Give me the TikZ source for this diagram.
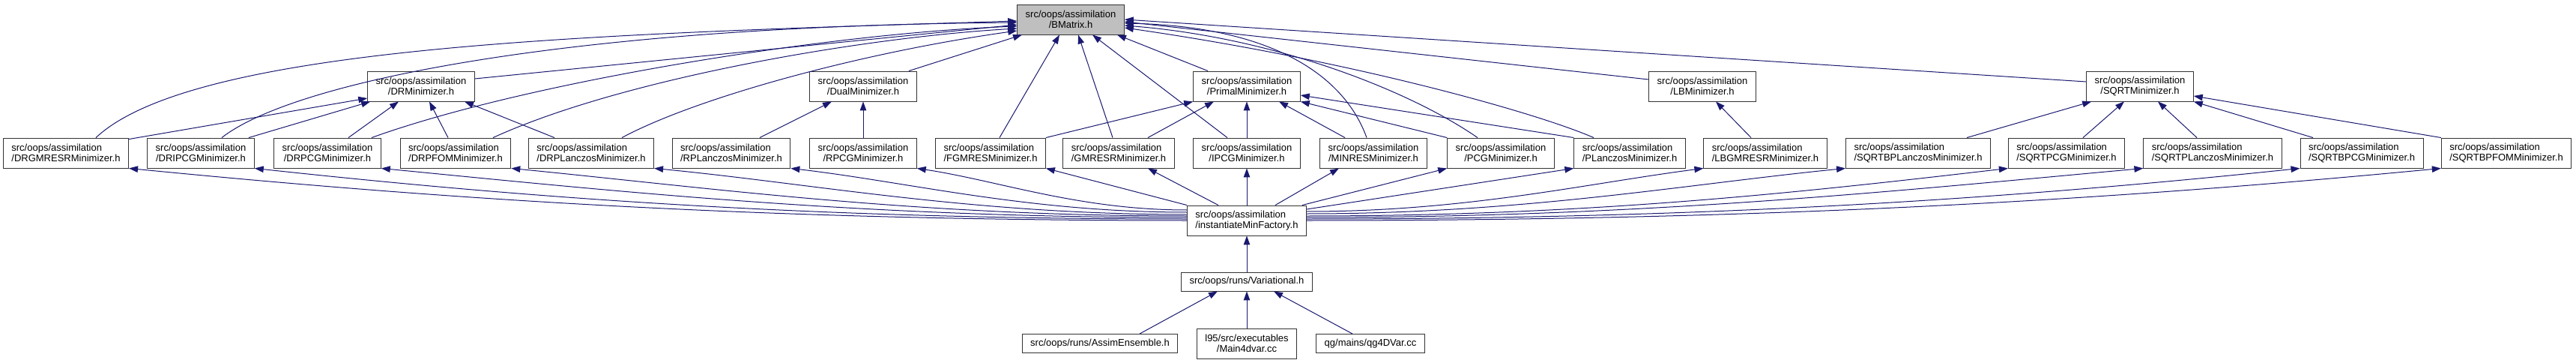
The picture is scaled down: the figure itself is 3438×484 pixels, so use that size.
\documentclass[tikz,border=0pt]{standalone}
\usepackage{fontspec}
\setmainfont{Liberation Sans}
\usepackage{tikz}
\usetikzlibrary{arrows.meta}
\definecolor{edgeblue}{RGB}{25,25,112}
\definecolor{rootgray}{RGB}{191,191,191}

\begin{document}
\begin{tikzpicture}[
        x=1pt, y=-1pt,
        hdr/.style={draw=black!80, line width=0.9pt, fill=white, inner xsep=11pt, inner ysep=0pt,
          minimum height=40pt, align=center, font=\fontsize{13}{14}\selectfont},
        hdrl/.style={hdr, align=left},
        one/.style={hdr, minimum height=25pt},
        root/.style={hdr, fill=rootgray},
        inc/.style={draw=edgeblue, line width=1pt, -{Triangle[length=12pt,width=8.5pt]}}
      ]
        \useasboundingbox (0,0) rectangle (3438,484);
        \node[root] (bm) at (1429,26) {src/oops/assimilation\\/BMatrix.h};
        \node[hdr] (drm) at (562,115) {src/oops/assimilation\\/DRMinimizer.h};
        \node[hdr] (dual) at (1152,115) {src/oops/assimilation\\/DualMinimizer.h};
        \node[hdr] (primal) at (1664,115) {src/oops/assimilation\\/PrimalMinimizer.h};
        \node[hdr] (lb) at (2272,115) {src/oops/assimilation\\/LBMinimizer.h};
        \node[hdr] (sqrtm) at (2856,115) {src/oops/assimilation\\/SQRTMinimizer.h};
        \node[hdrl] (drg) at (88,204) {src/oops/assimilation\\/DRGMRESRMinimizer.h};
        \node[hdr] (dripcg) at (268,204) {src/oops/assimilation\\/DRIPCGMinimizer.h};
        \node[hdr] (drpcg) at (437,204) {src/oops/assimilation\\/DRPCGMinimizer.h};
        \node[hdrl] (drpfom) at (608,204) {src/oops/assimilation\\/DRPFOMMinimizer.h};
        \node[hdrl] (drplan) at (789,204) {src/oops/assimilation\\/DRPLanczosMinimizer.h};
        \node[hdrl] (rplan) at (976,204) {src/oops/assimilation\\/RPLanczosMinimizer.h};
        \node[hdr] (rpcg) at (1152,204) {src/oops/assimilation\\/RPCGMinimizer.h};
        \node[hdrl] (fgmres) at (1322,204) {src/oops/assimilation\\/FGMRESMinimizer.h};
        \node[hdrl] (gmresr) at (1493,204) {src/oops/assimilation\\/GMRESRMinimizer.h};
        \node[hdr] (ipcg) at (1664,204) {src/oops/assimilation\\/IPCGMinimizer.h};
        \node[hdr] (minres) at (1833,204) {src/oops/assimilation\\/MINRESMinimizer.h};
        \node[hdr] (pcg) at (2003,204) {src/oops/assimilation\\/PCGMinimizer.h};
        \node[hdrl] (plan) at (2175,204) {src/oops/assimilation\\/PLanczosMinimizer.h};
        \node[hdrl] (lbg) at (2356,204) {src/oops/assimilation\\/LBGMRESRMinimizer.h};
        \node[hdrl] (sbplan) at (2560,204) {src/oops/assimilation\\/SQRTBPLanczosMinimizer.h};
        \node[hdrl] (spcg) at (2758,204) {src/oops/assimilation\\/SQRTPCGMinimizer.h};
        \node[hdrl] (splan) at (2953,204) {src/oops/assimilation\\/SQRTPLanczosMinimizer.h};
        \node[hdrl] (sbpcg) at (3152,204) {src/oops/assimilation\\/SQRTBPCGMinimizer.h};
        \node[hdrl] (sbpfom) at (3345,204) {src/oops/assimilation\\/SQRTBPFOMMinimizer.h};
        \node[hdrl] (fac) at (1664,294) {src/oops/assimilation\\/instantiateMinFactory.h};
        \node[one] (var) at (1664,375.5) {src/oops/runs/Variational.h};
        \node[one] (ens) at (1468,458) {src/oops/runs/AssimEnsemble.h};
        \node[hdr] (m4d) at (1664,458) {l95/src/executables\\/Main4dvar.cc};
        \node[one] (qg) at (1829,458) {qg/mains/qg4DVar.cc};

        \draw[inc] ([xshift=40pt]drg.north) .. controls (260,60) and (800,45) .. ([yshift=-2pt]bm.west);
        \draw[inc] ([xshift=28pt]dripcg.north) .. controls (390,110) and (750,35) .. ([yshift=-4pt]bm.west);
        \draw[inc] ([yshift=10pt]drm.east) -- ([yshift=-7pt]bm.west);
        \draw[inc] ([xshift=59pt]drpcg.north) .. controls (700,110) and (1100,45) .. ([yshift=-9pt]bm.west);
        \draw[inc] ([xshift=50pt]drpfom.north) .. controls (830,105) and (1150,50) .. ([yshift=-12pt]bm.west);
        \draw[inc] ([xshift=41pt]drplan.north) .. controls (930,130) and (1150,70) .. ([yshift=-15pt]bm.west);
        \draw[inc] ([xshift=61pt]dual.north) -- ([xshift=-65pt]bm.south);
        \draw[inc] ([xshift=12pt]fgmres.north) -- ([xshift=-15pt]bm.south);
        \draw[inc] ([xshift=-8pt]gmresr.north) -- ([xshift=10pt]bm.south);
        \draw[inc] ([xshift=-26pt]ipcg.north) -- ([xshift=29pt]bm.south);
        \draw[inc] ([xshift=-52pt]primal.north) -- ([xshift=62pt]bm.south);
        \draw[inc] ([xshift=-9pt]minres.north) .. controls (1790,90) and (1680,35) .. ([yshift=-5pt]bm.east);
        \draw[inc] ([xshift=-31pt]pcg.north) .. controls (1880,120) and (1700,50) .. ([yshift=-8pt]bm.east);
        \draw[inc] ([xshift=-48pt]plan.north) .. controls (2050,150) and (1800,80) .. ([yshift=-11pt]bm.east);
        \draw[inc] ([yshift=9pt]lb.west) -- ([yshift=-3pt]bm.east);
        \draw[inc] ([yshift=6pt]sqrtm.west) -- (bm.east);

        \draw[inc] ([yshift=-2pt]drg.north east) -- ([yshift=-16pt]drm.west);
        \draw[inc] ([xshift=64pt]dripcg.north) -- ([xshift=4pt]drm.south west);
        \draw[inc] ([xshift=28pt]drpcg.north) -- ([xshift=-30pt]drm.south);
        \draw[inc] ([xshift=-10pt]drpfom.north) -- ([xshift=11pt]drm.south);
        \draw[inc] ([xshift=-49pt]drplan.north) -- ([xshift=58pt]drm.south);
        \draw[inc] ([xshift=38pt]rplan.north) -- ([xshift=-42pt]dual.south);
        \draw[inc] (rpcg) -- (dual);
        \draw[inc] (fgmres.north east) -- (primal.south west);
        \draw[inc] ([xshift=39pt]gmresr.north) -- ([xshift=-44pt]primal.south);
        \draw[inc] (ipcg) -- (primal);
        \draw[inc] ([xshift=-38pt]minres.north) -- ([xshift=43pt]primal.south);
        \draw[inc] (pcg.north west) -- (primal.south east);
        \draw[inc] (plan.north west) -- ([yshift=-12pt]primal.east);
        \draw[inc] ([xshift=-19pt]lbg.north) -- ([xshift=18pt]lb.south);
        \draw[inc] ([xshift=65pt]sbplan.north) -- ([xshift=7pt]sqrtm.south west);
        \draw[inc] ([xshift=22pt]spcg.north) -- ([xshift=-21pt]sqrtm.south);
        \draw[inc] ([xshift=-21pt]splan.north) -- ([xshift=24pt]sqrtm.south);
        \draw[inc] ([xshift=-65pt]sbpcg.north) -- (sqrtm.south east);
        \draw[inc] (sbpfom.north west) -- ([yshift=-13pt]sqrtm.east);

        \draw[inc] (fac.west) .. controls (1019,294) and (595,266) .. (drg.south east);
        \draw[inc] ([yshift=2pt]fac.west) .. controls (1087,292) and (714,265) .. (dripcg.south east);
        \draw[inc] ([yshift=4pt]fac.west) .. controls (1154,290) and (832,256) .. (drpcg.south east);
        \draw[inc] ([yshift=6pt]fac.west) .. controls (1223,288) and (952,251) .. (drpfom.south east);
        \draw[inc] ([yshift=8pt]fac.west) .. controls (1299,286) and (1086,245) .. (drplan.south east);
        \draw[inc] ([yshift=11pt]fac.west) .. controls (1372,283) and (1214,243) .. (rplan.south east);
        \draw[inc] ([yshift=14pt]fac.west) .. controls (1440,280) and (1333,241) .. (rpcg.south east);
        \draw[inc] (fac.north west) -- (fgmres.south east);
        \draw[inc] ([xshift=-38pt]fac.north) -- ([xshift=39pt]gmresr.south);
        \draw[inc] (fac) -- (ipcg);
        \draw[inc] ([xshift=38pt]fac.north) -- ([xshift=-46pt]minres.south);
        \draw[inc] ([xshift=-6pt]fac.north east) -- (pcg.south west);
        \draw[inc] ([yshift=15pt]fac.east) -- (plan.south west);
        \draw[inc] ([yshift=12pt]fac.east) .. controls (1956,282) and (2115,245) .. (lbg.south west);
        \draw[inc] ([yshift=9pt]fac.east) .. controls (2031,285) and (2247,246) .. (sbplan.south west);
        \draw[inc] ([yshift=6pt]fac.east) .. controls (2119,288) and (2400,257) .. (spcg.south west);
        \draw[inc] ([yshift=4pt]fac.east) .. controls (2190,290) and (2525,255) .. (splan.south west);
        \draw[inc] ([yshift=2pt]fac.east) .. controls (2274,292) and (2672,266) .. (sbpcg.south west);
        \draw[inc] (fac.east) .. controls (2349,294) and (2803,268) .. (sbpfom.south west);

        \draw[inc] (var) -- (fac);
        \draw[inc] ([xshift=53pt]ens.north) -- ([xshift=-39pt]var.south);
        \draw[inc] (m4d) -- (var);
        \draw[inc] ([xshift=-24pt]qg.north) -- ([xshift=36pt]var.south);
      \end{tikzpicture}
\end{document}
